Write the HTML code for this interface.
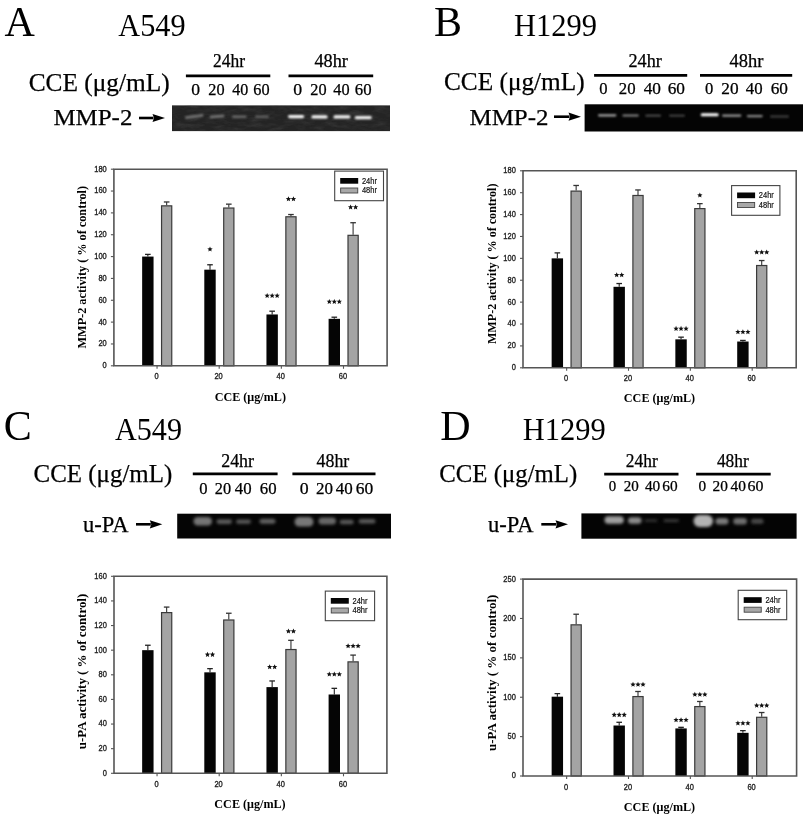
<!DOCTYPE html>
<html><head><meta charset="utf-8"><title>Figure</title>
<style>html,body{margin:0;padding:0;background:#fff;width:808px;height:818px;overflow:hidden}</style>
</head><body>
<svg width="808" height="818" viewBox="0 0 808 818" style="display:block;will-change:transform">
<defs><filter id="blur1" x="-20%" y="-200%" width="140%" height="500%"><feGaussianBlur stdDeviation="0.9"/></filter><filter id="noise" x="0" y="0" width="100%" height="100%"><feTurbulence type="fractalNoise" baseFrequency="0.08 0.25" numOctaves="3" seed="7" result="t"/><feColorMatrix in="t" type="matrix" values="0 0 0 0 0.06  0 0 0 0 0.06  0 0 0 0 0.06  -2 0 0 0 1.2"/><feComposite in2="SourceGraphic" operator="in"/></filter><filter id="blur2" x="-20%" y="-100%" width="140%" height="300%"><feGaussianBlur stdDeviation="1.6"/></filter></defs>
<rect x="0" y="0" width="808" height="818" fill="#fff"/>
<text x="4.6" y="35.9" font-family='"Liberation Serif", serif' font-size="42" font-weight="normal" text-anchor="start" fill="#000" >A</text>
<text x="118.3" y="35.9" font-family='"Liberation Serif", serif' font-size="32" font-weight="normal" text-anchor="start" fill="#000" textLength="67.3" lengthAdjust="spacingAndGlyphs" >A549</text>
<text x="28.7" y="90.7" font-family='"Liberation Serif", serif' font-size="26" font-weight="normal" text-anchor="start" fill="#000" textLength="141" lengthAdjust="spacingAndGlyphs" stroke="#000" stroke-width="0.25">CCE (&#956;g/mL)</text>
<text x="53.4" y="125.4" font-family='"Liberation Serif", serif' font-size="24" font-weight="normal" text-anchor="start" fill="#000" textLength="79" lengthAdjust="spacingAndGlyphs" stroke="#000" stroke-width="0.25">MMP-2</text>
<line x1="139" y1="118" x2="153.5" y2="118" stroke="#000" stroke-width="2.6"/>
<path d="M165,118 L152.5,113.9 L154.0,118 L152.5,122.1 Z" fill="#000"/>
<line x1="185.90" y1="75.90" x2="270.30" y2="75.90" stroke="#000" stroke-width="2.8"/>
<text x="213" y="67.0" font-family='"Liberation Serif", serif' font-size="18" font-weight="normal" text-anchor="start" fill="#000" textLength="32" lengthAdjust="spacingAndGlyphs" stroke="#000" stroke-width="0.25">24hr</text>
<line x1="288.50" y1="75.90" x2="373.20" y2="75.90" stroke="#000" stroke-width="2.8"/>
<text x="314.4" y="67.0" font-family='"Liberation Serif", serif' font-size="18" font-weight="normal" text-anchor="start" fill="#000" textLength="33.5" lengthAdjust="spacingAndGlyphs" stroke="#000" stroke-width="0.25">48hr</text>
<text x="191.36" y="94.5" font-family='"Liberation Serif", serif' font-size="16" font-weight="normal" text-anchor="start" fill="#000" textLength="8.78" lengthAdjust="spacingAndGlyphs" stroke="#000" stroke-width="0.25">0</text>
<text x="208.36" y="94.5" font-family='"Liberation Serif", serif' font-size="16" font-weight="normal" text-anchor="start" fill="#000" textLength="16.28" lengthAdjust="spacingAndGlyphs" stroke="#000" stroke-width="0.25">20</text>
<text x="232.36" y="94.5" font-family='"Liberation Serif", serif' font-size="16" font-weight="normal" text-anchor="start" fill="#000" textLength="15.98" lengthAdjust="spacingAndGlyphs" stroke="#000" stroke-width="0.25">40</text>
<text x="253.36" y="94.5" font-family='"Liberation Serif", serif' font-size="16" font-weight="normal" text-anchor="start" fill="#000" textLength="16.28" lengthAdjust="spacingAndGlyphs" stroke="#000" stroke-width="0.25">60</text>
<text x="293.36" y="94.5" font-family='"Liberation Serif", serif' font-size="16" font-weight="normal" text-anchor="start" fill="#000" textLength="8.88" lengthAdjust="spacingAndGlyphs" stroke="#000" stroke-width="0.25">0</text>
<text x="310.36" y="94.5" font-family='"Liberation Serif", serif' font-size="16" font-weight="normal" text-anchor="start" fill="#000" textLength="16.28" lengthAdjust="spacingAndGlyphs" stroke="#000" stroke-width="0.25">20</text>
<text x="333.36" y="94.5" font-family='"Liberation Serif", serif' font-size="16" font-weight="normal" text-anchor="start" fill="#000" textLength="16.28" lengthAdjust="spacingAndGlyphs" stroke="#000" stroke-width="0.25">40</text>
<text x="354.86" y="94.5" font-family='"Liberation Serif", serif' font-size="16" font-weight="normal" text-anchor="start" fill="#000" textLength="16.78" lengthAdjust="spacingAndGlyphs" stroke="#000" stroke-width="0.25">60</text>
<text x="434" y="35.9" font-family='"Liberation Serif", serif' font-size="42" font-weight="normal" text-anchor="start" fill="#000" >B</text>
<text x="514" y="35.9" font-family='"Liberation Serif", serif' font-size="32" font-weight="normal" text-anchor="start" fill="#000" textLength="83" lengthAdjust="spacingAndGlyphs" >H1299</text>
<text x="444" y="89.5" font-family='"Liberation Serif", serif' font-size="26" font-weight="normal" text-anchor="start" fill="#000" textLength="140.6" lengthAdjust="spacingAndGlyphs" stroke="#000" stroke-width="0.25">CCE (&#956;g/mL)</text>
<text x="469.5" y="124.7" font-family='"Liberation Serif", serif' font-size="24" font-weight="normal" text-anchor="start" fill="#000" textLength="79" lengthAdjust="spacingAndGlyphs" stroke="#000" stroke-width="0.25">MMP-2</text>
<line x1="554" y1="116.7" x2="569.5" y2="116.7" stroke="#000" stroke-width="2.6"/>
<path d="M581,116.7 L568.5,112.60000000000001 L570.0,116.7 L568.5,120.8 Z" fill="#000"/>
<line x1="594.10" y1="75.40" x2="687.20" y2="75.40" stroke="#000" stroke-width="2.8"/>
<text x="628.5" y="66.8" font-family='"Liberation Serif", serif' font-size="18" font-weight="normal" text-anchor="start" fill="#000" textLength="33.3" lengthAdjust="spacingAndGlyphs" stroke="#000" stroke-width="0.25">24hr</text>
<line x1="700.00" y1="75.40" x2="792.20" y2="75.40" stroke="#000" stroke-width="2.8"/>
<text x="729.5" y="66.8" font-family='"Liberation Serif", serif' font-size="18" font-weight="normal" text-anchor="start" fill="#000" textLength="33.9" lengthAdjust="spacingAndGlyphs" stroke="#000" stroke-width="0.25">48hr</text>
<text x="599.16" y="94.2" font-family='"Liberation Serif", serif' font-size="16" font-weight="normal" text-anchor="start" fill="#000" textLength="8.28" lengthAdjust="spacingAndGlyphs" stroke="#000" stroke-width="0.25">0</text>
<text x="618.86" y="94.2" font-family='"Liberation Serif", serif' font-size="16" font-weight="normal" text-anchor="start" fill="#000" textLength="16.78" lengthAdjust="spacingAndGlyphs" stroke="#000" stroke-width="0.25">20</text>
<text x="643.66" y="94.2" font-family='"Liberation Serif", serif' font-size="16" font-weight="normal" text-anchor="start" fill="#000" textLength="17.28" lengthAdjust="spacingAndGlyphs" stroke="#000" stroke-width="0.25">40</text>
<text x="667.66" y="94.2" font-family='"Liberation Serif", serif' font-size="16" font-weight="normal" text-anchor="start" fill="#000" textLength="17.28" lengthAdjust="spacingAndGlyphs" stroke="#000" stroke-width="0.25">60</text>
<text x="704.96" y="94.2" font-family='"Liberation Serif", serif' font-size="16" font-weight="normal" text-anchor="start" fill="#000" textLength="8.28" lengthAdjust="spacingAndGlyphs" stroke="#000" stroke-width="0.25">0</text>
<text x="721.36" y="94.2" font-family='"Liberation Serif", serif' font-size="16" font-weight="normal" text-anchor="start" fill="#000" textLength="17.28" lengthAdjust="spacingAndGlyphs" stroke="#000" stroke-width="0.25">20</text>
<text x="745.86" y="94.2" font-family='"Liberation Serif", serif' font-size="16" font-weight="normal" text-anchor="start" fill="#000" textLength="16.78" lengthAdjust="spacingAndGlyphs" stroke="#000" stroke-width="0.25">40</text>
<text x="770.66" y="94.2" font-family='"Liberation Serif", serif' font-size="16" font-weight="normal" text-anchor="start" fill="#000" textLength="17.28" lengthAdjust="spacingAndGlyphs" stroke="#000" stroke-width="0.25">60</text>
<text x="3.7" y="439.6" font-family='"Liberation Serif", serif' font-size="42" font-weight="normal" text-anchor="start" fill="#000" >C</text>
<text x="115" y="439.6" font-family='"Liberation Serif", serif' font-size="32" font-weight="normal" text-anchor="start" fill="#000" textLength="67" lengthAdjust="spacingAndGlyphs" >A549</text>
<text x="33.6" y="481.7" font-family='"Liberation Serif", serif' font-size="26" font-weight="normal" text-anchor="start" fill="#000" textLength="138.6" lengthAdjust="spacingAndGlyphs" stroke="#000" stroke-width="0.25">CCE (&#956;g/mL)</text>
<text x="83.1" y="531.7" font-family='"Liberation Serif", serif' font-size="23" font-weight="normal" text-anchor="start" fill="#000" textLength="45.5" lengthAdjust="spacingAndGlyphs" stroke="#000" stroke-width="0.25">u-PA</text>
<line x1="136" y1="524.3" x2="150.8" y2="524.3" stroke="#000" stroke-width="2.6"/>
<path d="M162.3,524.3 L149.8,520.1999999999999 L151.3,524.3 L149.8,528.4 Z" fill="#000"/>
<line x1="192.80" y1="473.80" x2="277.60" y2="473.80" stroke="#000" stroke-width="2.8"/>
<text x="221.2" y="467.1" font-family='"Liberation Serif", serif' font-size="18" font-weight="normal" text-anchor="start" fill="#000" textLength="32.8" lengthAdjust="spacingAndGlyphs" stroke="#000" stroke-width="0.25">24hr</text>
<line x1="292.40" y1="473.80" x2="375.50" y2="473.80" stroke="#000" stroke-width="2.8"/>
<text x="316.6" y="467.1" font-family='"Liberation Serif", serif' font-size="18" font-weight="normal" text-anchor="start" fill="#000" textLength="32.7" lengthAdjust="spacingAndGlyphs" stroke="#000" stroke-width="0.25">48hr</text>
<text x="199.36" y="494.1" font-family='"Liberation Serif", serif' font-size="16" font-weight="normal" text-anchor="start" fill="#000" textLength="8.28" lengthAdjust="spacingAndGlyphs" stroke="#000" stroke-width="0.25">0</text>
<text x="214.86" y="494.1" font-family='"Liberation Serif", serif' font-size="16" font-weight="normal" text-anchor="start" fill="#000" textLength="16.28" lengthAdjust="spacingAndGlyphs" stroke="#000" stroke-width="0.25">20</text>
<text x="234.86" y="494.1" font-family='"Liberation Serif", serif' font-size="16" font-weight="normal" text-anchor="start" fill="#000" textLength="16.78" lengthAdjust="spacingAndGlyphs" stroke="#000" stroke-width="0.25">40</text>
<text x="259.86" y="494.1" font-family='"Liberation Serif", serif' font-size="16" font-weight="normal" text-anchor="start" fill="#000" textLength="16.78" lengthAdjust="spacingAndGlyphs" stroke="#000" stroke-width="0.25">60</text>
<text x="299.76" y="494.1" font-family='"Liberation Serif", serif' font-size="16" font-weight="normal" text-anchor="start" fill="#000" textLength="8.88" lengthAdjust="spacingAndGlyphs" stroke="#000" stroke-width="0.25">0</text>
<text x="315.96" y="494.1" font-family='"Liberation Serif", serif' font-size="16" font-weight="normal" text-anchor="start" fill="#000" textLength="16.98" lengthAdjust="spacingAndGlyphs" stroke="#000" stroke-width="0.25">20</text>
<text x="335.86" y="494.1" font-family='"Liberation Serif", serif' font-size="16" font-weight="normal" text-anchor="start" fill="#000" textLength="16.98" lengthAdjust="spacingAndGlyphs" stroke="#000" stroke-width="0.25">40</text>
<text x="355.86" y="494.1" font-family='"Liberation Serif", serif' font-size="16" font-weight="normal" text-anchor="start" fill="#000" textLength="17.48" lengthAdjust="spacingAndGlyphs" stroke="#000" stroke-width="0.25">60</text>
<text x="440.2" y="439.6" font-family='"Liberation Serif", serif' font-size="42" font-weight="normal" text-anchor="start" fill="#000" >D</text>
<text x="522.8" y="439.6" font-family='"Liberation Serif", serif' font-size="32" font-weight="normal" text-anchor="start" fill="#000" textLength="83" lengthAdjust="spacingAndGlyphs" >H1299</text>
<text x="439.3" y="481.7" font-family='"Liberation Serif", serif' font-size="26" font-weight="normal" text-anchor="start" fill="#000" textLength="137.9" lengthAdjust="spacingAndGlyphs" stroke="#000" stroke-width="0.25">CCE (&#956;g/mL)</text>
<text x="488" y="531.7" font-family='"Liberation Serif", serif' font-size="23" font-weight="normal" text-anchor="start" fill="#000" textLength="45.5" lengthAdjust="spacingAndGlyphs" stroke="#000" stroke-width="0.25">u-PA</text>
<line x1="541.3" y1="524.3" x2="556.5" y2="524.3" stroke="#000" stroke-width="2.6"/>
<path d="M568,524.3 L555.5,520.1999999999999 L557.0,524.3 L555.5,528.4 Z" fill="#000"/>
<line x1="604.20" y1="474.20" x2="678.50" y2="474.20" stroke="#000" stroke-width="2.8"/>
<text x="625.8" y="467" font-family='"Liberation Serif", serif' font-size="18" font-weight="normal" text-anchor="start" fill="#000" textLength="31.9" lengthAdjust="spacingAndGlyphs" stroke="#000" stroke-width="0.25">24hr</text>
<line x1="696.10" y1="474.20" x2="770.70" y2="474.20" stroke="#000" stroke-width="2.8"/>
<text x="716.9" y="467" font-family='"Liberation Serif", serif' font-size="18" font-weight="normal" text-anchor="start" fill="#000" textLength="31.9" lengthAdjust="spacingAndGlyphs" stroke="#000" stroke-width="0.25">48hr</text>
<text x="608.74" y="491.2" font-family='"Liberation Serif", serif' font-size="14" font-weight="normal" text-anchor="start" fill="#000" textLength="7.42" lengthAdjust="spacingAndGlyphs" stroke="#000" stroke-width="0.25">0</text>
<text x="623.84" y="491.2" font-family='"Liberation Serif", serif' font-size="14" font-weight="normal" text-anchor="start" fill="#000" textLength="15.02" lengthAdjust="spacingAndGlyphs" stroke="#000" stroke-width="0.25">20</text>
<text x="644.94" y="491.2" font-family='"Liberation Serif", serif' font-size="14" font-weight="normal" text-anchor="start" fill="#000" textLength="15.32" lengthAdjust="spacingAndGlyphs" stroke="#000" stroke-width="0.25">40</text>
<text x="662.24" y="491.2" font-family='"Liberation Serif", serif' font-size="14" font-weight="normal" text-anchor="start" fill="#000" textLength="15.32" lengthAdjust="spacingAndGlyphs" stroke="#000" stroke-width="0.25">60</text>
<text x="698.44" y="491.2" font-family='"Liberation Serif", serif' font-size="14" font-weight="normal" text-anchor="start" fill="#000" textLength="7.62" lengthAdjust="spacingAndGlyphs" stroke="#000" stroke-width="0.25">0</text>
<text x="712.64" y="491.2" font-family='"Liberation Serif", serif' font-size="14" font-weight="normal" text-anchor="start" fill="#000" textLength="15.32" lengthAdjust="spacingAndGlyphs" stroke="#000" stroke-width="0.25">20</text>
<text x="730.54" y="491.2" font-family='"Liberation Serif", serif' font-size="14" font-weight="normal" text-anchor="start" fill="#000" textLength="15.42" lengthAdjust="spacingAndGlyphs" stroke="#000" stroke-width="0.25">40</text>
<text x="747.64" y="491.2" font-family='"Liberation Serif", serif' font-size="14" font-weight="normal" text-anchor="start" fill="#000" textLength="15.92" lengthAdjust="spacingAndGlyphs" stroke="#000" stroke-width="0.25">60</text>
<rect x="172" y="105.4" width="218" height="25.69999999999999" fill="#242424"/>
<rect x="172" y="105.4" width="218" height="25.69999999999999" fill="#000" filter="url(#noise)" opacity="0.5"/>
<g filter="url(#blur1)">
<line x1="186.3" y1="117.6" x2="202.2" y2="115.4" stroke="#727272" stroke-width="2.6" stroke-linecap="round"/>
<line x1="210.79999999999998" y1="117.0" x2="223.20000000000002" y2="116.0" stroke="#7a7a7a" stroke-width="2.4" stroke-linecap="round"/>
<rect x="232" y="115.6" width="14.699999999999989" height="2.4" rx="1.2" fill="#6a6a6a"/>
<rect x="255" y="115.6" width="14" height="2.4" rx="1.2" fill="#606060"/>
<rect x="288" y="114.89999999999999" width="16.19999999999999" height="3.4" rx="1.7" fill="#fafafa"/>
<rect x="311.3" y="115.2" width="16.399999999999977" height="3.4" rx="1.7" fill="#fafafa"/>
<rect x="333.4" y="115.2" width="17.100000000000023" height="3.4" rx="1.7" fill="#fafafa"/>
<rect x="354.7" y="115.89999999999999" width="17.100000000000023" height="3.4" rx="1.7" fill="#f4f4f4"/>
</g>
<rect x="584.6" y="104.3" width="218.39999999999998" height="27.200000000000003" fill="#040404"/>
<g filter="url(#blur1)">
<rect x="598" y="114.2" width="18.399999999999977" height="2.2" rx="1.1" fill="#a8a8a8"/>
<rect x="622.4" y="114.5" width="16.399999999999977" height="2.0" rx="1.0" fill="#8a8a8a"/>
<rect x="645.3" y="114.69999999999999" width="15.700000000000045" height="1.8" rx="0.9" fill="#5a5a5a"/>
<rect x="669" y="114.69999999999999" width="15.899999999999977" height="1.8" rx="0.9" fill="#505050"/>
<rect x="700.7" y="113.3" width="18.0" height="3.0" rx="1.5" fill="#ffffff"/>
<rect x="722" y="114.5" width="19.399999999999977" height="2.2" rx="1.1" fill="#9a9a9a"/>
<rect x="746.8" y="115.0" width="16.0" height="2.2" rx="1.1" fill="#8a8a8a"/>
<rect x="770" y="115.6" width="19" height="2.0" rx="1.0" fill="#444444"/>
</g>
<rect x="177.2" y="513.7" width="213.8" height="24.799999999999955" fill="#050505"/>
<g filter="url(#blur2)">
<rect x="193.5" y="517.05" width="18.5" height="8.5" rx="4.25" fill="#747474"/>
<rect x="216.5" y="519.3000000000001" width="15.5" height="4.6" rx="2.3" fill="#5c5c5c"/>
<rect x="236" y="519.4" width="15" height="4.4" rx="2.2" fill="#585858"/>
<rect x="259.5" y="518.8" width="16.0" height="5" rx="2.5" fill="#606060"/>
<rect x="294.5" y="517.05" width="19.0" height="9.5" rx="4.75" fill="#787878"/>
<rect x="318.5" y="517.5" width="17.5" height="7" rx="3.5" fill="#686868"/>
<rect x="339.7" y="519.8" width="14.0" height="4.4" rx="2.2" fill="#5a5a5a"/>
<rect x="358.7" y="519.0999999999999" width="16.80000000000001" height="4.4" rx="2.2" fill="#5a5a5a"/>
</g>
<rect x="581.4" y="513.4" width="215.20000000000005" height="25.300000000000068" fill="#040404"/>
<g filter="url(#blur2)">
<rect x="604.5" y="516.25" width="19.299999999999955" height="7.5" rx="3.75" fill="#a0a0a0"/>
<rect x="628" y="517.35" width="13.5" height="6.5" rx="3.25" fill="#8a8a8a"/>
<rect x="644.5" y="519.5" width="13.0" height="2.2" rx="1.1" fill="#3a3a3a"/>
<rect x="663.5" y="519.2" width="15.5" height="2.8" rx="1.4" fill="#3e3e3e"/>
<rect x="693.5" y="515.0" width="19.5" height="12" rx="6.0" fill="#b4b4b4"/>
<rect x="715.5" y="518.05" width="13.0" height="6.5" rx="3.25" fill="#7a7a7a"/>
<rect x="733.3" y="518.05" width="13.700000000000045" height="6.5" rx="3.25" fill="#6e6e6e"/>
<rect x="751" y="518.8" width="12.5" height="5" rx="2.5" fill="#4a4a4a"/>
</g>
<line x1="147.85" y1="254.39" x2="147.85" y2="256.58" stroke="#222" stroke-width="1.1"/>
<line x1="145.05" y1="254.39" x2="150.65" y2="254.39" stroke="#222" stroke-width="1.3"/>
<rect x="142.15" y="256.58" width="11.40" height="109.22" fill="#050505" />
<line x1="166.65" y1="201.97" x2="166.65" y2="205.24" stroke="#333" stroke-width="1.1"/>
<line x1="163.85" y1="201.97" x2="169.45" y2="201.97" stroke="#333" stroke-width="1.3"/>
<rect x="161.55" y="205.84" width="10.20" height="159.96" fill="#a4a4a4" stroke="#3a3a3a" stroke-width="1.2" />
<line x1="157.05" y1="365.80" x2="157.05" y2="368.80" stroke="#555" stroke-width="1.1"/>
<text x="156.45000000000002" y="379.4" font-family='"Liberation Sans", sans-serif' font-size="8.6" font-weight="normal" text-anchor="middle" fill="#222" textLength="4.15" lengthAdjust="spacingAndGlyphs" stroke="#222" stroke-width="0.35">0</text>
<line x1="210.00" y1="264.77" x2="210.00" y2="269.68" stroke="#222" stroke-width="1.1"/>
<line x1="207.20" y1="264.77" x2="212.80" y2="264.77" stroke="#222" stroke-width="1.3"/>
<rect x="204.30" y="269.68" width="11.40" height="96.12" fill="#050505" />
<line x1="228.80" y1="204.15" x2="228.80" y2="207.43" stroke="#333" stroke-width="1.1"/>
<line x1="226.00" y1="204.15" x2="231.60" y2="204.15" stroke="#333" stroke-width="1.3"/>
<rect x="223.70" y="208.03" width="10.20" height="157.77" fill="#a4a4a4" stroke="#3a3a3a" stroke-width="1.2" />
<line x1="219.20" y1="365.80" x2="219.20" y2="368.80" stroke="#555" stroke-width="1.1"/>
<text x="218.60000000000002" y="379.4" font-family='"Liberation Sans", sans-serif' font-size="8.6" font-weight="normal" text-anchor="middle" fill="#222" textLength="8.3" lengthAdjust="spacingAndGlyphs" stroke="#222" stroke-width="0.35">20</text>
<polygon points="210.00,246.47 210.74,248.25 212.66,248.40 211.20,249.66 211.65,251.53 210.00,250.53 208.35,251.53 208.80,249.66 207.34,248.40 209.26,248.25" fill="#111"/>
<line x1="272.15" y1="311.19" x2="272.15" y2="314.47" stroke="#222" stroke-width="1.1"/>
<line x1="269.35" y1="311.19" x2="274.95" y2="311.19" stroke="#222" stroke-width="1.3"/>
<rect x="266.45" y="314.47" width="11.40" height="51.33" fill="#050505" />
<line x1="290.95" y1="214.53" x2="290.95" y2="216.17" stroke="#333" stroke-width="1.1"/>
<line x1="288.15" y1="214.53" x2="293.75" y2="214.53" stroke="#333" stroke-width="1.3"/>
<rect x="285.85" y="216.77" width="10.20" height="149.03" fill="#a4a4a4" stroke="#3a3a3a" stroke-width="1.2" />
<line x1="281.35" y1="365.80" x2="281.35" y2="368.80" stroke="#555" stroke-width="1.1"/>
<text x="280.75" y="379.4" font-family='"Liberation Sans", sans-serif' font-size="8.6" font-weight="normal" text-anchor="middle" fill="#222" textLength="8.3" lengthAdjust="spacingAndGlyphs" stroke="#222" stroke-width="0.35">40</text>
<polygon points="267.15,292.89 267.89,294.67 269.81,294.82 268.35,296.08 268.80,297.95 267.15,296.95 265.50,297.95 265.95,296.08 264.49,294.82 266.41,294.67" fill="#111"/>
<polygon points="272.15,292.89 272.89,294.67 274.81,294.82 273.35,296.08 273.80,297.95 272.15,296.95 270.50,297.95 270.95,296.08 269.49,294.82 271.41,294.67" fill="#111"/>
<polygon points="277.15,292.89 277.89,294.67 279.81,294.82 278.35,296.08 278.80,297.95 277.15,296.95 275.50,297.95 275.95,296.08 274.49,294.82 276.41,294.67" fill="#111"/>
<polygon points="288.45,196.23 289.19,198.01 291.11,198.16 289.65,199.42 290.10,201.29 288.45,200.29 286.80,201.29 287.25,199.42 285.79,198.16 287.71,198.01" fill="#111"/>
<polygon points="293.45,196.23 294.19,198.01 296.11,198.16 294.65,199.42 295.10,201.29 293.45,200.29 291.80,201.29 292.25,199.42 290.79,198.16 292.71,198.01" fill="#111"/>
<line x1="334.30" y1="317.20" x2="334.30" y2="318.83" stroke="#222" stroke-width="1.1"/>
<line x1="331.50" y1="317.20" x2="337.10" y2="317.20" stroke="#222" stroke-width="1.3"/>
<rect x="328.60" y="318.83" width="11.40" height="46.97" fill="#050505" />
<line x1="353.10" y1="222.72" x2="353.10" y2="234.73" stroke="#333" stroke-width="1.1"/>
<line x1="350.30" y1="222.72" x2="355.90" y2="222.72" stroke="#333" stroke-width="1.3"/>
<rect x="348.00" y="235.33" width="10.20" height="130.47" fill="#a4a4a4" stroke="#3a3a3a" stroke-width="1.2" />
<line x1="343.50" y1="365.80" x2="343.50" y2="368.80" stroke="#555" stroke-width="1.1"/>
<text x="342.9" y="379.4" font-family='"Liberation Sans", sans-serif' font-size="8.6" font-weight="normal" text-anchor="middle" fill="#222" textLength="8.3" lengthAdjust="spacingAndGlyphs" stroke="#222" stroke-width="0.35">60</text>
<polygon points="329.30,298.90 330.04,300.68 331.96,300.83 330.50,302.09 330.95,303.96 329.30,302.96 327.65,303.96 328.10,302.09 326.64,300.83 328.56,300.68" fill="#111"/>
<polygon points="334.30,298.90 335.04,300.68 336.96,300.83 335.50,302.09 335.95,303.96 334.30,302.96 332.65,303.96 333.10,302.09 331.64,300.83 333.56,300.68" fill="#111"/>
<polygon points="339.30,298.90 340.04,300.68 341.96,300.83 340.50,302.09 340.95,303.96 339.30,302.96 337.65,303.96 338.10,302.09 336.64,300.83 338.56,300.68" fill="#111"/>
<polygon points="350.60,204.42 351.34,206.20 353.26,206.35 351.80,207.61 352.25,209.48 350.60,208.48 348.95,209.48 349.40,207.61 347.94,206.35 349.86,206.20" fill="#111"/>
<polygon points="355.60,204.42 356.34,206.20 358.26,206.35 356.80,207.61 357.25,209.48 355.60,208.48 353.95,209.48 354.40,207.61 352.94,206.35 354.86,206.20" fill="#111"/>
<path d="M113.9,169.2 L387.1,169.2 L387.1,365.8 L113.9,365.8 Z" fill="none" stroke="#555" stroke-width="1.6"/>
<line x1="110.90" y1="365.80" x2="113.90" y2="365.80" stroke="#555" stroke-width="1.1"/>
<text x="106.7" y="368.2" font-family='"Liberation Sans", sans-serif' font-size="8.6" font-weight="normal" text-anchor="end" fill="#222" textLength="4.15" lengthAdjust="spacingAndGlyphs" stroke="#222" stroke-width="0.35">0</text>
<line x1="110.90" y1="343.96" x2="113.90" y2="343.96" stroke="#555" stroke-width="1.1"/>
<text x="106.7" y="346.35555555555555" font-family='"Liberation Sans", sans-serif' font-size="8.6" font-weight="normal" text-anchor="end" fill="#222" textLength="8.3" lengthAdjust="spacingAndGlyphs" stroke="#222" stroke-width="0.35">20</text>
<line x1="110.90" y1="322.11" x2="113.90" y2="322.11" stroke="#555" stroke-width="1.1"/>
<text x="106.7" y="324.51111111111106" font-family='"Liberation Sans", sans-serif' font-size="8.6" font-weight="normal" text-anchor="end" fill="#222" textLength="8.3" lengthAdjust="spacingAndGlyphs" stroke="#222" stroke-width="0.35">40</text>
<line x1="110.90" y1="300.27" x2="113.90" y2="300.27" stroke="#555" stroke-width="1.1"/>
<text x="106.7" y="302.66666666666663" font-family='"Liberation Sans", sans-serif' font-size="8.6" font-weight="normal" text-anchor="end" fill="#222" textLength="8.3" lengthAdjust="spacingAndGlyphs" stroke="#222" stroke-width="0.35">60</text>
<line x1="110.90" y1="278.42" x2="113.90" y2="278.42" stroke="#555" stroke-width="1.1"/>
<text x="106.7" y="280.8222222222222" font-family='"Liberation Sans", sans-serif' font-size="8.6" font-weight="normal" text-anchor="end" fill="#222" textLength="8.3" lengthAdjust="spacingAndGlyphs" stroke="#222" stroke-width="0.35">80</text>
<line x1="110.90" y1="256.58" x2="113.90" y2="256.58" stroke="#555" stroke-width="1.1"/>
<text x="106.7" y="258.97777777777776" font-family='"Liberation Sans", sans-serif' font-size="8.6" font-weight="normal" text-anchor="end" fill="#222" textLength="12.450000000000001" lengthAdjust="spacingAndGlyphs" stroke="#222" stroke-width="0.35">100</text>
<line x1="110.90" y1="234.73" x2="113.90" y2="234.73" stroke="#555" stroke-width="1.1"/>
<text x="106.7" y="237.13333333333333" font-family='"Liberation Sans", sans-serif' font-size="8.6" font-weight="normal" text-anchor="end" fill="#222" textLength="12.450000000000001" lengthAdjust="spacingAndGlyphs" stroke="#222" stroke-width="0.35">120</text>
<line x1="110.90" y1="212.89" x2="113.90" y2="212.89" stroke="#555" stroke-width="1.1"/>
<text x="106.7" y="215.28888888888886" font-family='"Liberation Sans", sans-serif' font-size="8.6" font-weight="normal" text-anchor="end" fill="#222" textLength="12.450000000000001" lengthAdjust="spacingAndGlyphs" stroke="#222" stroke-width="0.35">140</text>
<line x1="110.90" y1="191.04" x2="113.90" y2="191.04" stroke="#555" stroke-width="1.1"/>
<text x="106.7" y="193.44444444444443" font-family='"Liberation Sans", sans-serif' font-size="8.6" font-weight="normal" text-anchor="end" fill="#222" textLength="12.450000000000001" lengthAdjust="spacingAndGlyphs" stroke="#222" stroke-width="0.35">160</text>
<line x1="110.90" y1="169.20" x2="113.90" y2="169.20" stroke="#555" stroke-width="1.1"/>
<text x="106.7" y="171.6" font-family='"Liberation Sans", sans-serif' font-size="8.6" font-weight="normal" text-anchor="end" fill="#222" textLength="12.450000000000001" lengthAdjust="spacingAndGlyphs" stroke="#222" stroke-width="0.35">180</text>
<rect x="334.7" y="171.1" width="48.80000000000001" height="29.599999999999994" fill="#fff" stroke="#444" stroke-width="1.1"/>
<rect x="340.20" y="178.00" width="18.00" height="5.70" fill="#050505" />
<rect x="340.65" y="188.00" width="17.10" height="5.00" fill="#a8a8a8" stroke="#444" stroke-width="0.9" />
<text x="361.9" y="183.7" font-family='"Liberation Sans", sans-serif' font-size="9" font-weight="normal" text-anchor="start" fill="#111" textLength="15" lengthAdjust="spacingAndGlyphs" stroke="#111" stroke-width="0.2">24hr</text>
<text x="361.9" y="193.4" font-family='"Liberation Sans", sans-serif' font-size="9" font-weight="normal" text-anchor="start" fill="#111" textLength="15" lengthAdjust="spacingAndGlyphs" stroke="#111" stroke-width="0.2">48hr</text>
<text x="250.3" y="400.6" font-family='"Liberation Serif", serif' font-size="12" font-weight="bold" text-anchor="middle" fill="#000" textLength="71.3" lengthAdjust="spacingAndGlyphs" >CCE (&#956;g/mL)</text>
<text x="0" y="0" transform="translate(86,267.2) rotate(-90)" font-family='"Liberation Serif", serif' font-size="13" font-weight="bold" text-anchor="middle" textLength="162.5" lengthAdjust="spacingAndGlyphs">MMP-2 activity ( % of control)</text>
<line x1="557.35" y1="252.88" x2="557.35" y2="258.36" stroke="#222" stroke-width="1.1"/>
<line x1="554.55" y1="252.88" x2="560.15" y2="252.88" stroke="#222" stroke-width="1.3"/>
<rect x="551.65" y="258.36" width="11.40" height="109.44" fill="#050505" />
<line x1="576.15" y1="185.47" x2="576.15" y2="190.50" stroke="#333" stroke-width="1.1"/>
<line x1="573.35" y1="185.47" x2="578.95" y2="185.47" stroke="#333" stroke-width="1.3"/>
<rect x="571.05" y="191.10" width="10.20" height="176.70" fill="#a4a4a4" stroke="#3a3a3a" stroke-width="1.2" />
<line x1="566.65" y1="367.80" x2="566.65" y2="370.80" stroke="#555" stroke-width="1.1"/>
<text x="566.05" y="381.4" font-family='"Liberation Sans", sans-serif' font-size="8.6" font-weight="normal" text-anchor="middle" fill="#222" textLength="4.15" lengthAdjust="spacingAndGlyphs" stroke="#222" stroke-width="0.35">0</text>
<line x1="619.20" y1="283.53" x2="619.20" y2="286.81" stroke="#222" stroke-width="1.1"/>
<line x1="616.40" y1="283.53" x2="622.00" y2="283.53" stroke="#222" stroke-width="1.3"/>
<rect x="613.50" y="286.81" width="11.40" height="80.99" fill="#050505" />
<line x1="638.00" y1="189.95" x2="638.00" y2="194.88" stroke="#333" stroke-width="1.1"/>
<line x1="635.20" y1="189.95" x2="640.80" y2="189.95" stroke="#333" stroke-width="1.3"/>
<rect x="632.90" y="195.48" width="10.20" height="172.32" fill="#a4a4a4" stroke="#3a3a3a" stroke-width="1.2" />
<line x1="628.50" y1="367.80" x2="628.50" y2="370.80" stroke="#555" stroke-width="1.1"/>
<text x="627.9" y="381.4" font-family='"Liberation Sans", sans-serif' font-size="8.6" font-weight="normal" text-anchor="middle" fill="#222" textLength="8.3" lengthAdjust="spacingAndGlyphs" stroke="#222" stroke-width="0.35">20</text>
<polygon points="616.70,272.23 617.44,274.01 619.36,274.16 617.90,275.42 618.35,277.29 616.70,276.29 615.05,277.29 615.50,275.42 614.04,274.16 615.96,274.01" fill="#111"/>
<polygon points="621.70,272.23 622.44,274.01 624.36,274.16 622.90,275.42 623.35,277.29 621.70,276.29 620.05,277.29 620.50,275.42 619.04,274.16 620.96,274.01" fill="#111"/>
<line x1="681.05" y1="337.16" x2="681.05" y2="339.34" stroke="#222" stroke-width="1.1"/>
<line x1="678.25" y1="337.16" x2="683.85" y2="337.16" stroke="#222" stroke-width="1.3"/>
<rect x="675.35" y="339.34" width="11.40" height="28.46" fill="#050505" />
<line x1="699.85" y1="203.63" x2="699.85" y2="208.01" stroke="#333" stroke-width="1.1"/>
<line x1="697.05" y1="203.63" x2="702.65" y2="203.63" stroke="#333" stroke-width="1.3"/>
<rect x="694.75" y="208.61" width="10.20" height="159.19" fill="#a4a4a4" stroke="#3a3a3a" stroke-width="1.2" />
<line x1="690.35" y1="367.80" x2="690.35" y2="370.80" stroke="#555" stroke-width="1.1"/>
<text x="689.75" y="381.4" font-family='"Liberation Sans", sans-serif' font-size="8.6" font-weight="normal" text-anchor="middle" fill="#222" textLength="8.3" lengthAdjust="spacingAndGlyphs" stroke="#222" stroke-width="0.35">40</text>
<polygon points="676.05,325.86 676.79,327.64 678.71,327.79 677.25,329.04 677.70,330.92 676.05,329.92 674.40,330.92 674.85,329.04 673.39,327.79 675.31,327.64" fill="#111"/>
<polygon points="681.05,325.86 681.79,327.64 683.71,327.79 682.25,329.04 682.70,330.92 681.05,329.92 679.40,330.92 679.85,329.04 678.39,327.79 680.31,327.64" fill="#111"/>
<polygon points="686.05,325.86 686.79,327.64 688.71,327.79 687.25,329.04 687.70,330.92 686.05,329.92 684.40,330.92 684.85,329.04 683.39,327.79 685.31,327.64" fill="#111"/>
<polygon points="699.85,192.53 700.59,194.31 702.51,194.47 701.05,195.72 701.50,197.60 699.85,196.59 698.20,197.60 698.65,195.72 697.19,194.47 699.11,194.31" fill="#111"/>
<line x1="742.90" y1="340.44" x2="742.90" y2="341.53" stroke="#222" stroke-width="1.1"/>
<line x1="740.10" y1="340.44" x2="745.70" y2="340.44" stroke="#222" stroke-width="1.3"/>
<rect x="737.20" y="341.53" width="11.40" height="26.27" fill="#050505" />
<line x1="761.70" y1="260.54" x2="761.70" y2="264.92" stroke="#333" stroke-width="1.1"/>
<line x1="758.90" y1="260.54" x2="764.50" y2="260.54" stroke="#333" stroke-width="1.3"/>
<rect x="756.60" y="265.52" width="10.20" height="102.28" fill="#a4a4a4" stroke="#3a3a3a" stroke-width="1.2" />
<line x1="752.20" y1="367.80" x2="752.20" y2="370.80" stroke="#555" stroke-width="1.1"/>
<text x="751.6" y="381.4" font-family='"Liberation Sans", sans-serif' font-size="8.6" font-weight="normal" text-anchor="middle" fill="#222" textLength="8.3" lengthAdjust="spacingAndGlyphs" stroke="#222" stroke-width="0.35">60</text>
<polygon points="737.90,329.14 738.64,330.92 740.56,331.07 739.10,332.33 739.55,334.20 737.90,333.20 736.25,334.20 736.70,332.33 735.24,331.07 737.16,330.92" fill="#111"/>
<polygon points="742.90,329.14 743.64,330.92 745.56,331.07 744.10,332.33 744.55,334.20 742.90,333.20 741.25,334.20 741.70,332.33 740.24,331.07 742.16,330.92" fill="#111"/>
<polygon points="747.90,329.14 748.64,330.92 750.56,331.07 749.10,332.33 749.55,334.20 747.90,333.20 746.25,334.20 746.70,332.33 745.24,331.07 747.16,330.92" fill="#111"/>
<polygon points="756.70,249.44 757.44,251.23 759.36,251.38 757.90,252.63 758.35,254.51 756.70,253.50 755.05,254.51 755.50,252.63 754.04,251.38 755.96,251.23" fill="#111"/>
<polygon points="761.70,249.44 762.44,251.23 764.36,251.38 762.90,252.63 763.35,254.51 761.70,253.50 760.05,254.51 760.50,252.63 759.04,251.38 760.96,251.23" fill="#111"/>
<polygon points="766.70,249.44 767.44,251.23 769.36,251.38 767.90,252.63 768.35,254.51 766.70,253.50 765.05,254.51 765.50,252.63 764.04,251.38 765.96,251.23" fill="#111"/>
<path d="M523,170.8 L796.2,170.8 L796.2,367.8 L523,367.8 Z" fill="none" stroke="#555" stroke-width="1.6"/>
<line x1="520.00" y1="367.80" x2="523.00" y2="367.80" stroke="#555" stroke-width="1.1"/>
<text x="515.8" y="370.2" font-family='"Liberation Sans", sans-serif' font-size="8.6" font-weight="normal" text-anchor="end" fill="#222" textLength="4.15" lengthAdjust="spacingAndGlyphs" stroke="#222" stroke-width="0.35">0</text>
<line x1="520.00" y1="345.91" x2="523.00" y2="345.91" stroke="#555" stroke-width="1.1"/>
<text x="515.8" y="348.3111111111111" font-family='"Liberation Sans", sans-serif' font-size="8.6" font-weight="normal" text-anchor="end" fill="#222" textLength="8.3" lengthAdjust="spacingAndGlyphs" stroke="#222" stroke-width="0.35">20</text>
<line x1="520.00" y1="324.02" x2="523.00" y2="324.02" stroke="#555" stroke-width="1.1"/>
<text x="515.8" y="326.4222222222222" font-family='"Liberation Sans", sans-serif' font-size="8.6" font-weight="normal" text-anchor="end" fill="#222" textLength="8.3" lengthAdjust="spacingAndGlyphs" stroke="#222" stroke-width="0.35">40</text>
<line x1="520.00" y1="302.13" x2="523.00" y2="302.13" stroke="#555" stroke-width="1.1"/>
<text x="515.8" y="304.5333333333333" font-family='"Liberation Sans", sans-serif' font-size="8.6" font-weight="normal" text-anchor="end" fill="#222" textLength="8.3" lengthAdjust="spacingAndGlyphs" stroke="#222" stroke-width="0.35">60</text>
<line x1="520.00" y1="280.24" x2="523.00" y2="280.24" stroke="#555" stroke-width="1.1"/>
<text x="515.8" y="282.6444444444444" font-family='"Liberation Sans", sans-serif' font-size="8.6" font-weight="normal" text-anchor="end" fill="#222" textLength="8.3" lengthAdjust="spacingAndGlyphs" stroke="#222" stroke-width="0.35">80</text>
<line x1="520.00" y1="258.36" x2="523.00" y2="258.36" stroke="#555" stroke-width="1.1"/>
<text x="515.8" y="260.75555555555553" font-family='"Liberation Sans", sans-serif' font-size="8.6" font-weight="normal" text-anchor="end" fill="#222" textLength="12.450000000000001" lengthAdjust="spacingAndGlyphs" stroke="#222" stroke-width="0.35">100</text>
<line x1="520.00" y1="236.47" x2="523.00" y2="236.47" stroke="#555" stroke-width="1.1"/>
<text x="515.8" y="238.86666666666667" font-family='"Liberation Sans", sans-serif' font-size="8.6" font-weight="normal" text-anchor="end" fill="#222" textLength="12.450000000000001" lengthAdjust="spacingAndGlyphs" stroke="#222" stroke-width="0.35">120</text>
<line x1="520.00" y1="214.58" x2="523.00" y2="214.58" stroke="#555" stroke-width="1.1"/>
<text x="515.8" y="216.9777777777778" font-family='"Liberation Sans", sans-serif' font-size="8.6" font-weight="normal" text-anchor="end" fill="#222" textLength="12.450000000000001" lengthAdjust="spacingAndGlyphs" stroke="#222" stroke-width="0.35">140</text>
<line x1="520.00" y1="192.69" x2="523.00" y2="192.69" stroke="#555" stroke-width="1.1"/>
<text x="515.8" y="195.08888888888887" font-family='"Liberation Sans", sans-serif' font-size="8.6" font-weight="normal" text-anchor="end" fill="#222" textLength="12.450000000000001" lengthAdjust="spacingAndGlyphs" stroke="#222" stroke-width="0.35">160</text>
<line x1="520.00" y1="170.80" x2="523.00" y2="170.80" stroke="#555" stroke-width="1.1"/>
<text x="515.8" y="173.2" font-family='"Liberation Sans", sans-serif' font-size="8.6" font-weight="normal" text-anchor="end" fill="#222" textLength="12.450000000000001" lengthAdjust="spacingAndGlyphs" stroke="#222" stroke-width="0.35">180</text>
<rect x="731.6" y="185.6" width="48.299999999999955" height="29.700000000000017" fill="#fff" stroke="#444" stroke-width="1.1"/>
<rect x="737.10" y="192.50" width="18.00" height="5.70" fill="#050505" />
<rect x="737.55" y="202.50" width="17.10" height="5.00" fill="#a8a8a8" stroke="#444" stroke-width="0.9" />
<text x="758.8000000000001" y="198.2" font-family='"Liberation Sans", sans-serif' font-size="9" font-weight="normal" text-anchor="start" fill="#111" textLength="15" lengthAdjust="spacingAndGlyphs" stroke="#111" stroke-width="0.2">24hr</text>
<text x="758.8000000000001" y="207.9" font-family='"Liberation Sans", sans-serif' font-size="9" font-weight="normal" text-anchor="start" fill="#111" textLength="15" lengthAdjust="spacingAndGlyphs" stroke="#111" stroke-width="0.2">48hr</text>
<text x="659.5" y="402.4" font-family='"Liberation Serif", serif' font-size="12" font-weight="bold" text-anchor="middle" fill="#000" textLength="71.3" lengthAdjust="spacingAndGlyphs" >CCE (&#956;g/mL)</text>
<text x="0" y="0" transform="translate(495.6,263.8) rotate(-90)" font-family='"Liberation Serif", serif' font-size="13" font-weight="bold" text-anchor="middle" textLength="160.5" lengthAdjust="spacingAndGlyphs">MMP-2 activity ( % of control)</text>
<line x1="147.85" y1="645.25" x2="147.85" y2="650.17" stroke="#222" stroke-width="1.1"/>
<line x1="145.05" y1="645.25" x2="150.65" y2="645.25" stroke="#222" stroke-width="1.3"/>
<rect x="142.15" y="650.17" width="11.40" height="123.12" fill="#050505" />
<line x1="166.65" y1="607.08" x2="166.65" y2="612.01" stroke="#333" stroke-width="1.1"/>
<line x1="163.85" y1="607.08" x2="169.45" y2="607.08" stroke="#333" stroke-width="1.3"/>
<rect x="161.55" y="612.61" width="10.20" height="160.69" fill="#a4a4a4" stroke="#3a3a3a" stroke-width="1.2" />
<line x1="157.05" y1="773.30" x2="157.05" y2="776.30" stroke="#555" stroke-width="1.1"/>
<text x="156.45000000000002" y="786.6" font-family='"Liberation Sans", sans-serif' font-size="8.6" font-weight="normal" text-anchor="middle" fill="#222" textLength="4.15" lengthAdjust="spacingAndGlyphs" stroke="#222" stroke-width="0.35">0</text>
<line x1="210.00" y1="668.64" x2="210.00" y2="672.34" stroke="#222" stroke-width="1.1"/>
<line x1="207.20" y1="668.64" x2="212.80" y2="668.64" stroke="#222" stroke-width="1.3"/>
<rect x="204.30" y="672.34" width="11.40" height="100.96" fill="#050505" />
<line x1="228.80" y1="613.24" x2="228.80" y2="619.39" stroke="#333" stroke-width="1.1"/>
<line x1="226.00" y1="613.24" x2="231.60" y2="613.24" stroke="#333" stroke-width="1.3"/>
<rect x="223.70" y="619.99" width="10.20" height="153.31" fill="#a4a4a4" stroke="#3a3a3a" stroke-width="1.2" />
<line x1="219.20" y1="773.30" x2="219.20" y2="776.30" stroke="#555" stroke-width="1.1"/>
<text x="218.60000000000002" y="786.6" font-family='"Liberation Sans", sans-serif' font-size="8.6" font-weight="normal" text-anchor="middle" fill="#222" textLength="8.3" lengthAdjust="spacingAndGlyphs" stroke="#222" stroke-width="0.35">20</text>
<polygon points="207.50,651.84 208.24,653.62 210.16,653.78 208.70,655.03 209.15,656.91 207.50,655.90 205.85,656.91 206.30,655.03 204.84,653.78 206.76,653.62" fill="#111"/>
<polygon points="212.50,651.84 213.24,653.62 215.16,653.78 213.70,655.03 214.15,656.91 212.50,655.90 210.85,656.91 211.30,655.03 209.84,653.78 211.76,653.62" fill="#111"/>
<line x1="272.15" y1="680.96" x2="272.15" y2="687.11" stroke="#222" stroke-width="1.1"/>
<line x1="269.35" y1="680.96" x2="274.95" y2="680.96" stroke="#222" stroke-width="1.3"/>
<rect x="266.45" y="687.11" width="11.40" height="86.19" fill="#050505" />
<line x1="290.95" y1="640.32" x2="290.95" y2="648.94" stroke="#333" stroke-width="1.1"/>
<line x1="288.15" y1="640.32" x2="293.75" y2="640.32" stroke="#333" stroke-width="1.3"/>
<rect x="285.85" y="649.54" width="10.20" height="123.76" fill="#a4a4a4" stroke="#3a3a3a" stroke-width="1.2" />
<line x1="281.35" y1="773.30" x2="281.35" y2="776.30" stroke="#555" stroke-width="1.1"/>
<text x="280.75" y="786.6" font-family='"Liberation Sans", sans-serif' font-size="8.6" font-weight="normal" text-anchor="middle" fill="#222" textLength="8.3" lengthAdjust="spacingAndGlyphs" stroke="#222" stroke-width="0.35">40</text>
<polygon points="269.65,664.16 270.39,665.94 272.31,666.09 270.85,667.35 271.30,669.22 269.65,668.22 268.00,669.22 268.45,667.35 266.99,666.09 268.91,665.94" fill="#111"/>
<polygon points="274.65,664.16 275.39,665.94 277.31,666.09 275.85,667.35 276.30,669.22 274.65,668.22 273.00,669.22 273.45,667.35 271.99,666.09 273.91,665.94" fill="#111"/>
<polygon points="288.45,628.52 289.19,630.31 291.11,630.46 289.65,631.71 290.10,633.59 288.45,632.58 286.80,633.59 287.25,631.71 285.79,630.46 287.71,630.31" fill="#111"/>
<polygon points="293.45,628.52 294.19,630.31 296.11,630.46 294.65,631.71 295.10,633.59 293.45,632.58 291.80,633.59 292.25,631.71 290.79,630.46 292.71,630.31" fill="#111"/>
<line x1="334.30" y1="688.34" x2="334.30" y2="694.50" stroke="#222" stroke-width="1.1"/>
<line x1="331.50" y1="688.34" x2="337.10" y2="688.34" stroke="#222" stroke-width="1.3"/>
<rect x="328.60" y="694.50" width="11.40" height="78.80" fill="#050505" />
<line x1="353.10" y1="655.10" x2="353.10" y2="661.26" stroke="#333" stroke-width="1.1"/>
<line x1="350.30" y1="655.10" x2="355.90" y2="655.10" stroke="#333" stroke-width="1.3"/>
<rect x="348.00" y="661.86" width="10.20" height="111.44" fill="#a4a4a4" stroke="#3a3a3a" stroke-width="1.2" />
<line x1="343.50" y1="773.30" x2="343.50" y2="776.30" stroke="#555" stroke-width="1.1"/>
<text x="342.9" y="786.6" font-family='"Liberation Sans", sans-serif' font-size="8.6" font-weight="normal" text-anchor="middle" fill="#222" textLength="8.3" lengthAdjust="spacingAndGlyphs" stroke="#222" stroke-width="0.35">60</text>
<polygon points="329.30,671.54 330.04,673.32 331.96,673.48 330.50,674.73 330.95,676.61 329.30,675.60 327.65,676.61 328.10,674.73 326.64,673.48 328.56,673.32" fill="#111"/>
<polygon points="334.30,671.54 335.04,673.32 336.96,673.48 335.50,674.73 335.95,676.61 334.30,675.60 332.65,676.61 333.10,674.73 331.64,673.48 333.56,673.32" fill="#111"/>
<polygon points="339.30,671.54 340.04,673.32 341.96,673.48 340.50,674.73 340.95,676.61 339.30,675.60 337.65,676.61 338.10,674.73 336.64,673.48 338.56,673.32" fill="#111"/>
<polygon points="348.10,643.30 348.84,645.08 350.76,645.23 349.30,646.49 349.75,648.37 348.10,647.36 346.45,648.37 346.90,646.49 345.44,645.23 347.36,645.08" fill="#111"/>
<polygon points="353.10,643.30 353.84,645.08 355.76,645.23 354.30,646.49 354.75,648.37 353.10,647.36 351.45,648.37 351.90,646.49 350.44,645.23 352.36,645.08" fill="#111"/>
<polygon points="358.10,643.30 358.84,645.08 360.76,645.23 359.30,646.49 359.75,648.37 358.10,647.36 356.45,648.37 356.90,646.49 355.44,645.23 357.36,645.08" fill="#111"/>
<path d="M114,576.3 L386.9,576.3 L386.9,773.3 L114,773.3 Z" fill="none" stroke="#555" stroke-width="1.6"/>
<line x1="111.00" y1="773.30" x2="114.00" y2="773.30" stroke="#555" stroke-width="1.1"/>
<text x="106.8" y="775.6999999999999" font-family='"Liberation Sans", sans-serif' font-size="8.6" font-weight="normal" text-anchor="end" fill="#222" textLength="4.15" lengthAdjust="spacingAndGlyphs" stroke="#222" stroke-width="0.35">0</text>
<line x1="111.00" y1="748.67" x2="114.00" y2="748.67" stroke="#555" stroke-width="1.1"/>
<text x="106.8" y="751.0749999999999" font-family='"Liberation Sans", sans-serif' font-size="8.6" font-weight="normal" text-anchor="end" fill="#222" textLength="8.3" lengthAdjust="spacingAndGlyphs" stroke="#222" stroke-width="0.35">20</text>
<line x1="111.00" y1="724.05" x2="114.00" y2="724.05" stroke="#555" stroke-width="1.1"/>
<text x="106.8" y="726.4499999999999" font-family='"Liberation Sans", sans-serif' font-size="8.6" font-weight="normal" text-anchor="end" fill="#222" textLength="8.3" lengthAdjust="spacingAndGlyphs" stroke="#222" stroke-width="0.35">40</text>
<line x1="111.00" y1="699.42" x2="114.00" y2="699.42" stroke="#555" stroke-width="1.1"/>
<text x="106.8" y="701.8249999999999" font-family='"Liberation Sans", sans-serif' font-size="8.6" font-weight="normal" text-anchor="end" fill="#222" textLength="8.3" lengthAdjust="spacingAndGlyphs" stroke="#222" stroke-width="0.35">60</text>
<line x1="111.00" y1="674.80" x2="114.00" y2="674.80" stroke="#555" stroke-width="1.1"/>
<text x="106.8" y="677.1999999999999" font-family='"Liberation Sans", sans-serif' font-size="8.6" font-weight="normal" text-anchor="end" fill="#222" textLength="8.3" lengthAdjust="spacingAndGlyphs" stroke="#222" stroke-width="0.35">80</text>
<line x1="111.00" y1="650.17" x2="114.00" y2="650.17" stroke="#555" stroke-width="1.1"/>
<text x="106.8" y="652.5749999999999" font-family='"Liberation Sans", sans-serif' font-size="8.6" font-weight="normal" text-anchor="end" fill="#222" textLength="12.450000000000001" lengthAdjust="spacingAndGlyphs" stroke="#222" stroke-width="0.35">100</text>
<line x1="111.00" y1="625.55" x2="114.00" y2="625.55" stroke="#555" stroke-width="1.1"/>
<text x="106.8" y="627.9499999999999" font-family='"Liberation Sans", sans-serif' font-size="8.6" font-weight="normal" text-anchor="end" fill="#222" textLength="12.450000000000001" lengthAdjust="spacingAndGlyphs" stroke="#222" stroke-width="0.35">120</text>
<line x1="111.00" y1="600.92" x2="114.00" y2="600.92" stroke="#555" stroke-width="1.1"/>
<text x="106.8" y="603.3249999999999" font-family='"Liberation Sans", sans-serif' font-size="8.6" font-weight="normal" text-anchor="end" fill="#222" textLength="12.450000000000001" lengthAdjust="spacingAndGlyphs" stroke="#222" stroke-width="0.35">140</text>
<line x1="111.00" y1="576.30" x2="114.00" y2="576.30" stroke="#555" stroke-width="1.1"/>
<text x="106.8" y="578.6999999999999" font-family='"Liberation Sans", sans-serif' font-size="8.6" font-weight="normal" text-anchor="end" fill="#222" textLength="12.450000000000001" lengthAdjust="spacingAndGlyphs" stroke="#222" stroke-width="0.35">160</text>
<rect x="325.3" y="591.1" width="49.30000000000001" height="29.600000000000023" fill="#fff" stroke="#444" stroke-width="1.1"/>
<rect x="330.80" y="598.00" width="18.00" height="5.70" fill="#050505" />
<rect x="331.25" y="608.00" width="17.10" height="5.00" fill="#a8a8a8" stroke="#444" stroke-width="0.9" />
<text x="352.5" y="603.7" font-family='"Liberation Sans", sans-serif' font-size="9" font-weight="normal" text-anchor="start" fill="#111" textLength="15" lengthAdjust="spacingAndGlyphs" stroke="#111" stroke-width="0.2">24hr</text>
<text x="352.5" y="613.4" font-family='"Liberation Sans", sans-serif' font-size="9" font-weight="normal" text-anchor="start" fill="#111" textLength="15" lengthAdjust="spacingAndGlyphs" stroke="#111" stroke-width="0.2">48hr</text>
<text x="250" y="808" font-family='"Liberation Serif", serif' font-size="12" font-weight="bold" text-anchor="middle" fill="#000" textLength="71.3" lengthAdjust="spacingAndGlyphs" >CCE (&#956;g/mL)</text>
<text x="0" y="0" transform="translate(86.1,671.5) rotate(-90)" font-family='"Liberation Serif", serif' font-size="13" font-weight="bold" text-anchor="middle" textLength="155.5" lengthAdjust="spacingAndGlyphs">u-PA activity ( % of control)</text>
<line x1="557.35" y1="693.62" x2="557.35" y2="696.69" stroke="#222" stroke-width="1.1"/>
<line x1="554.55" y1="693.62" x2="560.15" y2="693.62" stroke="#222" stroke-width="1.3"/>
<rect x="551.65" y="696.69" width="11.40" height="79.31" fill="#050505" />
<line x1="576.15" y1="614.23" x2="576.15" y2="624.23" stroke="#333" stroke-width="1.1"/>
<line x1="573.35" y1="614.23" x2="578.95" y2="614.23" stroke="#333" stroke-width="1.3"/>
<rect x="571.05" y="624.83" width="10.20" height="151.17" fill="#a4a4a4" stroke="#3a3a3a" stroke-width="1.2" />
<line x1="566.65" y1="776.00" x2="566.65" y2="779.00" stroke="#555" stroke-width="1.1"/>
<text x="566.05" y="789.6" font-family='"Liberation Sans", sans-serif' font-size="8.6" font-weight="normal" text-anchor="middle" fill="#222" textLength="4.15" lengthAdjust="spacingAndGlyphs" stroke="#222" stroke-width="0.35">0</text>
<line x1="619.20" y1="722.29" x2="619.20" y2="725.51" stroke="#222" stroke-width="1.1"/>
<line x1="616.40" y1="722.29" x2="622.00" y2="722.29" stroke="#222" stroke-width="1.3"/>
<rect x="613.50" y="725.51" width="11.40" height="50.49" fill="#050505" />
<line x1="638.00" y1="691.49" x2="638.00" y2="695.98" stroke="#333" stroke-width="1.1"/>
<line x1="635.20" y1="691.49" x2="640.80" y2="691.49" stroke="#333" stroke-width="1.3"/>
<rect x="632.90" y="696.58" width="10.20" height="79.42" fill="#a4a4a4" stroke="#3a3a3a" stroke-width="1.2" />
<line x1="628.50" y1="776.00" x2="628.50" y2="779.00" stroke="#555" stroke-width="1.1"/>
<text x="627.9" y="789.6" font-family='"Liberation Sans", sans-serif' font-size="8.6" font-weight="normal" text-anchor="middle" fill="#222" textLength="8.3" lengthAdjust="spacingAndGlyphs" stroke="#222" stroke-width="0.35">20</text>
<polygon points="614.20,712.09 614.94,713.87 616.86,714.02 615.40,715.28 615.85,717.15 614.20,716.15 612.55,717.15 613.00,715.28 611.54,714.02 613.46,713.87" fill="#111"/>
<polygon points="619.20,712.09 619.94,713.87 621.86,714.02 620.40,715.28 620.85,717.15 619.20,716.15 617.55,717.15 618.00,715.28 616.54,714.02 618.46,713.87" fill="#111"/>
<polygon points="624.20,712.09 624.94,713.87 626.86,714.02 625.40,715.28 625.85,717.15 624.20,716.15 622.55,717.15 623.00,715.28 621.54,714.02 623.46,713.87" fill="#111"/>
<polygon points="633.00,681.69 633.74,683.47 635.66,683.63 634.20,684.88 634.65,686.76 633.00,685.75 631.35,686.76 631.80,684.88 630.34,683.63 632.26,683.47" fill="#111"/>
<polygon points="638.00,681.69 638.74,683.47 640.66,683.63 639.20,684.88 639.65,686.76 638.00,685.75 636.35,686.76 636.80,684.88 635.34,683.63 637.26,683.47" fill="#111"/>
<polygon points="643.00,681.69 643.74,683.47 645.66,683.63 644.20,684.88 644.65,686.76 643.00,685.75 641.35,686.76 641.80,684.88 640.34,683.63 642.26,683.47" fill="#111"/>
<line x1="681.05" y1="727.33" x2="681.05" y2="728.43" stroke="#222" stroke-width="1.1"/>
<line x1="678.25" y1="727.33" x2="683.85" y2="727.33" stroke="#222" stroke-width="1.3"/>
<rect x="675.35" y="728.43" width="11.40" height="47.57" fill="#050505" />
<line x1="699.85" y1="701.49" x2="699.85" y2="705.98" stroke="#333" stroke-width="1.1"/>
<line x1="697.05" y1="701.49" x2="702.65" y2="701.49" stroke="#333" stroke-width="1.3"/>
<rect x="694.75" y="706.58" width="10.20" height="69.42" fill="#a4a4a4" stroke="#3a3a3a" stroke-width="1.2" />
<line x1="690.35" y1="776.00" x2="690.35" y2="779.00" stroke="#555" stroke-width="1.1"/>
<text x="689.75" y="789.6" font-family='"Liberation Sans", sans-serif' font-size="8.6" font-weight="normal" text-anchor="middle" fill="#222" textLength="8.3" lengthAdjust="spacingAndGlyphs" stroke="#222" stroke-width="0.35">40</text>
<polygon points="676.05,717.13 676.79,718.91 678.71,719.06 677.25,720.32 677.70,722.19 676.05,721.19 674.40,722.19 674.85,720.32 673.39,719.06 675.31,718.91" fill="#111"/>
<polygon points="681.05,717.13 681.79,718.91 683.71,719.06 682.25,720.32 682.70,722.19 681.05,721.19 679.40,722.19 679.85,720.32 678.39,719.06 680.31,718.91" fill="#111"/>
<polygon points="686.05,717.13 686.79,718.91 688.71,719.06 687.25,720.32 687.70,722.19 686.05,721.19 684.40,722.19 684.85,720.32 683.39,719.06 685.31,718.91" fill="#111"/>
<polygon points="694.85,691.69 695.59,693.47 697.51,693.63 696.05,694.88 696.50,696.76 694.85,695.75 693.20,696.76 693.65,694.88 692.19,693.63 694.11,693.47" fill="#111"/>
<polygon points="699.85,691.69 700.59,693.47 702.51,693.63 701.05,694.88 701.50,696.76 699.85,695.75 698.20,696.76 698.65,694.88 697.19,693.63 699.11,693.47" fill="#111"/>
<polygon points="704.85,691.69 705.59,693.47 707.51,693.63 706.05,694.88 706.50,696.76 704.85,695.75 703.20,696.76 703.65,694.88 702.19,693.63 704.11,693.47" fill="#111"/>
<line x1="742.90" y1="730.63" x2="742.90" y2="732.84" stroke="#222" stroke-width="1.1"/>
<line x1="740.10" y1="730.63" x2="745.70" y2="730.63" stroke="#222" stroke-width="1.3"/>
<rect x="737.20" y="732.84" width="11.40" height="43.16" fill="#050505" />
<line x1="761.70" y1="712.52" x2="761.70" y2="716.69" stroke="#333" stroke-width="1.1"/>
<line x1="758.90" y1="712.52" x2="764.50" y2="712.52" stroke="#333" stroke-width="1.3"/>
<rect x="756.60" y="717.29" width="10.20" height="58.71" fill="#a4a4a4" stroke="#3a3a3a" stroke-width="1.2" />
<line x1="752.20" y1="776.00" x2="752.20" y2="779.00" stroke="#555" stroke-width="1.1"/>
<text x="751.6" y="789.6" font-family='"Liberation Sans", sans-serif' font-size="8.6" font-weight="normal" text-anchor="middle" fill="#222" textLength="8.3" lengthAdjust="spacingAndGlyphs" stroke="#222" stroke-width="0.35">60</text>
<polygon points="737.90,720.43 738.64,722.21 740.56,722.37 739.10,723.62 739.55,725.50 737.90,724.49 736.25,725.50 736.70,723.62 735.24,722.37 737.16,722.21" fill="#111"/>
<polygon points="742.90,720.43 743.64,722.21 745.56,722.37 744.10,723.62 744.55,725.50 742.90,724.49 741.25,725.50 741.70,723.62 740.24,722.37 742.16,722.21" fill="#111"/>
<polygon points="747.90,720.43 748.64,722.21 750.56,722.37 749.10,723.62 749.55,725.50 747.90,724.49 746.25,725.50 746.70,723.62 745.24,722.37 747.16,722.21" fill="#111"/>
<polygon points="756.70,702.72 757.44,704.50 759.36,704.65 757.90,705.91 758.35,707.78 756.70,706.78 755.05,707.78 755.50,705.91 754.04,704.65 755.96,704.50" fill="#111"/>
<polygon points="761.70,702.72 762.44,704.50 764.36,704.65 762.90,705.91 763.35,707.78 761.70,706.78 760.05,707.78 760.50,705.91 759.04,704.65 760.96,704.50" fill="#111"/>
<polygon points="766.70,702.72 767.44,704.50 769.36,704.65 767.90,705.91 768.35,707.78 766.70,706.78 765.05,707.78 765.50,705.91 764.04,704.65 765.96,704.50" fill="#111"/>
<path d="M523,579.1 L796.6,579.1 L796.6,776.0 L523,776.0 Z" fill="none" stroke="#555" stroke-width="1.6"/>
<line x1="520.00" y1="776.00" x2="523.00" y2="776.00" stroke="#555" stroke-width="1.1"/>
<text x="515.8" y="778.4" font-family='"Liberation Sans", sans-serif' font-size="8.6" font-weight="normal" text-anchor="end" fill="#222" textLength="4.15" lengthAdjust="spacingAndGlyphs" stroke="#222" stroke-width="0.35">0</text>
<line x1="520.00" y1="736.62" x2="523.00" y2="736.62" stroke="#555" stroke-width="1.1"/>
<text x="515.8" y="739.02" font-family='"Liberation Sans", sans-serif' font-size="8.6" font-weight="normal" text-anchor="end" fill="#222" textLength="8.3" lengthAdjust="spacingAndGlyphs" stroke="#222" stroke-width="0.35">50</text>
<line x1="520.00" y1="697.24" x2="523.00" y2="697.24" stroke="#555" stroke-width="1.1"/>
<text x="515.8" y="699.64" font-family='"Liberation Sans", sans-serif' font-size="8.6" font-weight="normal" text-anchor="end" fill="#222" textLength="12.450000000000001" lengthAdjust="spacingAndGlyphs" stroke="#222" stroke-width="0.35">100</text>
<line x1="520.00" y1="657.86" x2="523.00" y2="657.86" stroke="#555" stroke-width="1.1"/>
<text x="515.8" y="660.26" font-family='"Liberation Sans", sans-serif' font-size="8.6" font-weight="normal" text-anchor="end" fill="#222" textLength="12.450000000000001" lengthAdjust="spacingAndGlyphs" stroke="#222" stroke-width="0.35">150</text>
<line x1="520.00" y1="618.48" x2="523.00" y2="618.48" stroke="#555" stroke-width="1.1"/>
<text x="515.8" y="620.88" font-family='"Liberation Sans", sans-serif' font-size="8.6" font-weight="normal" text-anchor="end" fill="#222" textLength="12.450000000000001" lengthAdjust="spacingAndGlyphs" stroke="#222" stroke-width="0.35">200</text>
<line x1="520.00" y1="579.10" x2="523.00" y2="579.10" stroke="#555" stroke-width="1.1"/>
<text x="515.8" y="581.5" font-family='"Liberation Sans", sans-serif' font-size="8.6" font-weight="normal" text-anchor="end" fill="#222" textLength="12.450000000000001" lengthAdjust="spacingAndGlyphs" stroke="#222" stroke-width="0.35">250</text>
<rect x="738.2" y="590.3" width="48.5" height="29.40000000000009" fill="#fff" stroke="#444" stroke-width="1.1"/>
<rect x="743.70" y="597.20" width="18.00" height="5.70" fill="#050505" />
<rect x="744.15" y="607.20" width="17.10" height="5.00" fill="#a8a8a8" stroke="#444" stroke-width="0.9" />
<text x="765.4000000000001" y="602.9" font-family='"Liberation Sans", sans-serif' font-size="9" font-weight="normal" text-anchor="start" fill="#111" textLength="15" lengthAdjust="spacingAndGlyphs" stroke="#111" stroke-width="0.2">24hr</text>
<text x="765.4000000000001" y="612.5999999999999" font-family='"Liberation Sans", sans-serif' font-size="9" font-weight="normal" text-anchor="start" fill="#111" textLength="15" lengthAdjust="spacingAndGlyphs" stroke="#111" stroke-width="0.2">48hr</text>
<text x="659.5" y="811" font-family='"Liberation Serif", serif' font-size="12" font-weight="bold" text-anchor="middle" fill="#000" textLength="71.3" lengthAdjust="spacingAndGlyphs" >CCE (&#956;g/mL)</text>
<text x="0" y="0" transform="translate(495.8,672.8) rotate(-90)" font-family='"Liberation Serif", serif' font-size="13" font-weight="bold" text-anchor="middle" textLength="156.5" lengthAdjust="spacingAndGlyphs">u-PA activity ( % of control)</text>
</svg>
</body></html>
